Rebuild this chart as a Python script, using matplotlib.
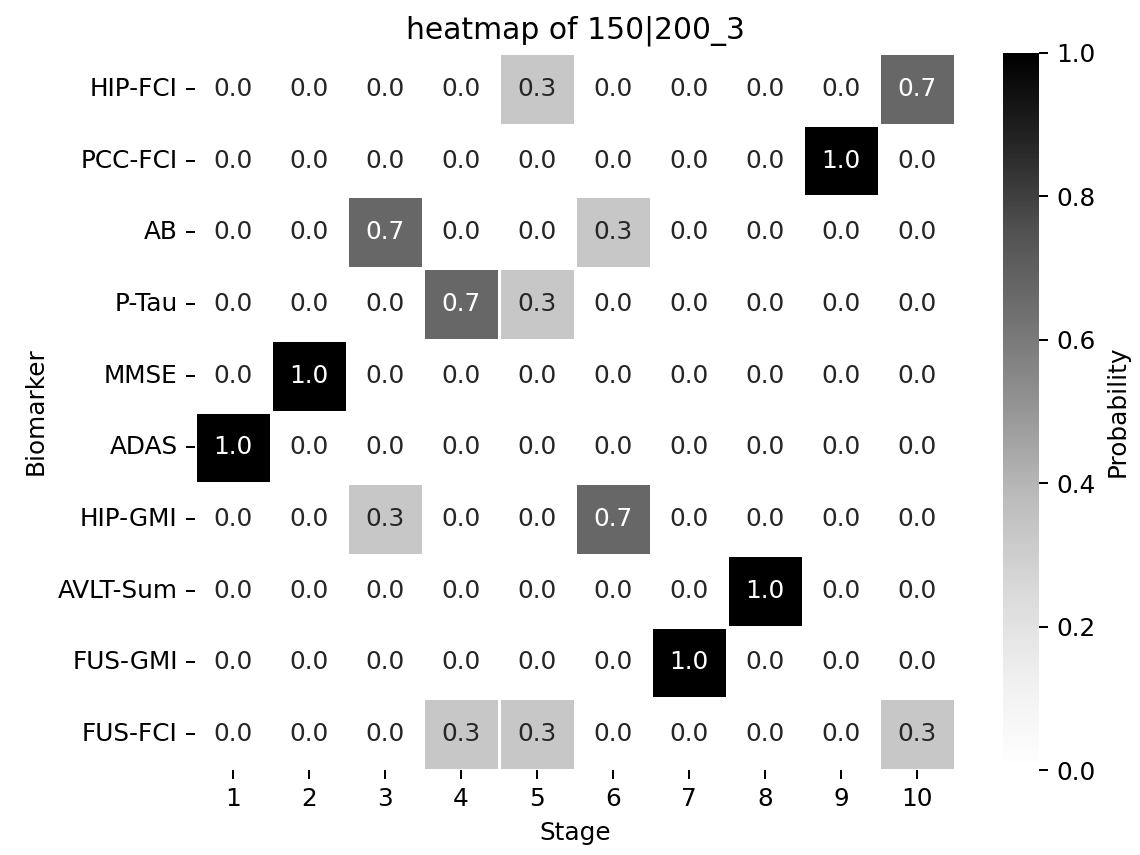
import numpy as np
import matplotlib
matplotlib.use("Agg")
import matplotlib.pyplot as plt
import seaborn as sns


# ── Data ──────────────────────────────────────────────────────────────────────

biomarkers = ["HIP-FCI", "PCC-FCI", "AB", "P-Tau", "MMSE",
              "ADAS", "HIP-GMI", "AVLT-Sum", "FUS-GMI", "FUS-FCI"]
stages = [1, 2, 3, 4, 5, 6, 7, 8, 9, 10]

# one row per biomarker, one column per stage
prob = [
    [0.0, 0.0, 0.0, 0.0, 0.33, 0.0, 0.0, 0.0, 0.0, 0.67],
    [0.0, 0.0, 0.0, 0.0, 0.0, 0.0, 0.0, 0.0, 1.0, 0.0],
    [0.0, 0.0, 0.67, 0.0, 0.0, 0.33, 0.0, 0.0, 0.0, 0.0],
    [0.0, 0.0, 0.0, 0.67, 0.33, 0.0, 0.0, 0.0, 0.0, 0.0],
    [0.0, 1.0, 0.0, 0.0, 0.0, 0.0, 0.0, 0.0, 0.0, 0.0],
    [1.0, 0.0, 0.0, 0.0, 0.0, 0.0, 0.0, 0.0, 0.0, 0.0],
    [0.0, 0.0, 0.33, 0.0, 0.0, 0.67, 0.0, 0.0, 0.0, 0.0],
    [0.0, 0.0, 0.0, 0.0, 0.0, 0.0, 0.0, 1.0, 0.0, 0.0],
    [0.0, 0.0, 0.0, 0.0, 0.0, 0.0, 1.0, 0.0, 0.0, 0.0],
    [0.0, 0.0, 0.0, 0.33, 0.33, 0.0, 0.0, 0.0, 0.0, 0.33],
]

TITLE = "heatmap of 150|200_3"
W, H = 1140, 855
DPI = W / 6.4


def main():
    fig = plt.figure(figsize=(6.4, 4.8), dpi=DPI)
    # placement in pixels (left, top, right, bottom)
    ax = fig.add_axes([195 / W, 1 - 770 / H, (955 - 195) / W, (770 - 53) / H])
    cax = fig.add_axes([1003 / W, 1 - 770 / H, 36 / W, (770 - 53) / H])
    sns.heatmap(
        np.array(prob),
        annot=True,
        fmt=".1f",
        cmap="Greys",
        vmin=0.0,
        vmax=1.0,
        linewidths=0.5,
        linecolor="white",
        xticklabels=stages,
        yticklabels=biomarkers,
        cbar_ax=cax,
        cbar_kws={"label": "Probability"},
        ax=ax,
    )
    ax.set_title(TITLE)
    ax.set_xlabel("Stage")
    ax.set_ylabel("Biomarker")
    plt.setp(ax.get_yticklabels(), rotation=0)
    fig.savefig("out.png", dpi=DPI)


if __name__ == "__main__":
    main()
